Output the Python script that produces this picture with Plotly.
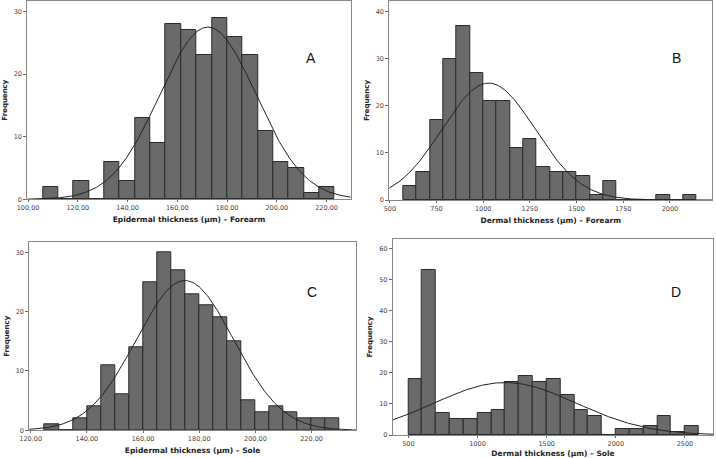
import numpy as np
import plotly.graph_objects as go

# panel A: epidermal thickness, forearm
a_start, a_width = 106.0, 6.17
a_counts = [2, 0, 3, 0, 6, 3, 13, 9, 28, 27, 23, 29, 26, 23, 11, 6, 5, 1, 2]
a_mean, a_sd = 172.3, 19.4
a_ticks = [100, 120, 140, 160, 180, 200, 220]
a_ticktext = ["100,00", "120,00", "140,00", "160,00", "180,00", "200,00", "220,00"]

# panel B: dermal thickness, forearm
b_start, b_width = 571.0, 71.5
b_counts = [3, 6, 17, 30, 37, 27, 21, 21, 11, 13, 7, 6, 6, 5, 1, 4, 0, 0, 0, 1, 0, 1]
b_mean, b_sd = 1029, 249
b_ticks = [500, 750, 1000, 1250, 1500, 1750, 2000]

# panel C: epidermal thickness, sole
c_start, c_width = 125.0, 5.0
c_counts = [1, 0, 2, 4, 11, 6, 14, 25, 30, 27, 23, 21, 19, 15, 5, 3, 4, 3, 2, 2, 2]
c_mean, c_sd = 174.9, 17.3
c_ticks = [120, 140, 160, 180, 200, 220]
c_ticktext = ["120,00", "140,00", "160,00", "180,00", "200,00", "220,00"]

# panel D: dermal thickness, sole
d_start, d_width = 500.0, 100.0
d_counts = [18, 53, 7, 5, 5, 7, 8, 17, 19, 17, 18, 13, 8, 6, 0, 2, 2, 3, 6, 1, 3]
d_mean, d_sd = 1200, 515
d_ticks = [500, 1000, 1500, 2000, 2500]

panels = [
    dict(start=a_start, width=a_width, counts=a_counts, mean=a_mean, sd=a_sd,
         ticks=a_ticks, ticktext=a_ticktext, xr=[99.7, 229.7], yr=[0, 31.7],
         yticks=[0, 10, 20, 30], title="Epidermal thickness (µm) – Forearm",
         letter="A", lx=0.899, ly=0.763, xd=[0.0381, 0.4898], yd=[0.5648, 0.9978]),
    dict(start=b_start, width=b_width, counts=b_counts, mean=b_mean, sd=b_sd,
         ticks=b_ticks, ticktext=[str(t) for t in b_ticks], xr=[497, 2227], yr=[0, 42.3],
         yticks=[0, 10, 20, 30, 40], title="Dermal thickness (µm) – Forearm",
         letter="B", lx=0.91, ly=0.764, xd=[0.5437, 0.9948], yd=[0.5633, 0.9978]),
    dict(start=c_start, width=c_width, counts=c_counts, mean=c_mean, sd=c_sd,
         ticks=c_ticks, ticktext=c_ticktext, xr=[119.5, 235.8], yr=[0, 31.7],
         yticks=[0, 10, 20, 30], title="Epidermal thickness (µm) – Sole",
         letter="C", lx=0.887, ly=0.79, xd=[0.0409, 0.4972], yd=[0.0605, 0.4710]),
    dict(start=d_start, width=d_width, counts=d_counts, mean=d_mean, sd=d_sd,
         ticks=d_ticks, ticktext=[str(t) for t in d_ticks], xr=[387, 2705], yr=[0, 63.1],
         yticks=[0, 10, 20, 30, 40, 50, 60], title="Dermal thickness (µm) – Sole",
         letter="D", lx=0.905, ly=0.782, xd=[0.5485, 0.9962], yd=[0.0502, 0.4782]),
]

fig = go.Figure()
layout = dict(
    width=716, height=458, margin=dict(l=0, r=0, t=0, b=0, autoexpand=False),
    paper_bgcolor="white", plot_bgcolor="white", showlegend=False,
    bargap=0, font=dict(family="DejaVu Sans", color="#333333"),
)
annotations = []

for i, p in enumerate(panels):
    n = i + 1
    xa = "x" if n == 1 else f"x{n}"
    ya = "y" if n == 1 else f"y{n}"
    counts = np.array(p["counts"])
    centers = p["start"] + p["width"] * (np.arange(len(counts)) + 0.5)
    fig.add_trace(go.Bar(
        x=centers, y=counts, width=p["width"], xaxis=xa, yaxis=ya,
        marker=dict(color="#6a6a6a", line=dict(color="#2a2a2a", width=1)),
    ))
    # fitted normal curve scaled to the histogram
    total = counts.sum()
    xs = np.linspace(p["xr"][0], p["xr"][1], 300)
    ys = total * p["width"] / (p["sd"] * np.sqrt(2 * np.pi)) * np.exp(-0.5 * ((xs - p["mean"]) / p["sd"]) ** 2)
    fig.add_trace(go.Scatter(
        x=xs, y=ys, mode="lines", xaxis=xa, yaxis=ya,
        line=dict(color="#222222", width=1), hoverinfo="skip",
    ))
    kx = "xaxis" if n == 1 else f"xaxis{n}"
    ky = "yaxis" if n == 1 else f"yaxis{n}"
    layout[kx] = dict(
        domain=p["xd"], range=p["xr"], anchor=ya, tickvals=p["ticks"], ticktext=p["ticktext"],
        tickfont=dict(size=6.5, color="#444444"), ticks="outside", ticklen=2, tickcolor="#666666",
        showline=True, linecolor="#888888", linewidth=1, mirror=True, showgrid=False, zeroline=False,
        automargin=False,
        title=dict(text="<b>" + p["title"] + "</b>", font=dict(size=7.5, color="#222222"), standoff=5),
    )
    layout[ky] = dict(
        domain=p["yd"], range=p["yr"], anchor=xa, tickvals=p["yticks"],
        tickfont=dict(size=6.5, color="#444444"), ticks="outside", ticklen=3, tickcolor="#666666",
        showline=True, linecolor="#888888", linewidth=1, mirror=True, showgrid=False, zeroline=False,
        automargin=False,
        title=dict(text="<b>Frequency</b>", font=dict(size=7, color="#222222"), standoff=5),
    )
    annotations.append(dict(
        text=p["letter"], xref=f"{xa} domain", yref=f"{ya} domain", x=p["lx"], y=p["ly"],
        showarrow=False, font=dict(size=14, color="#111111", family="Liberation Sans"),
    ))

layout["annotations"] = annotations
fig.update_layout(**layout)
# drop the browser's default page margin so the figure sits at the top-left corner
fig.write_html("out.html", config={"displayModeBar": False},
               post_script="document.body.style.margin='0';")
